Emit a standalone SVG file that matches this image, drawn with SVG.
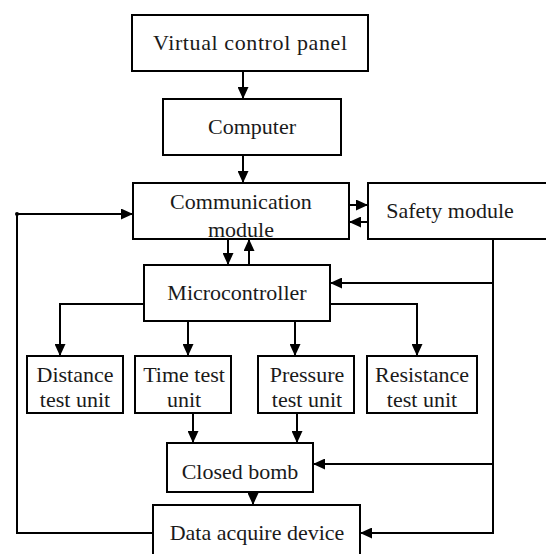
<svg xmlns="http://www.w3.org/2000/svg" width="546" height="554" viewBox="0 0 546 554">
<style>
.box{fill:#fff;stroke:#000;stroke-width:2}
.t{font-family:"Liberation Serif","Times New Roman",serif;font-size:22px;fill:#1a1a1a;text-anchor:middle}
.c{fill:none;stroke:#000;stroke-width:2}
</style>
<defs>
<marker id="ah" viewBox="0 0 12 11" markerWidth="12" markerHeight="11" refX="12" refY="5.5" orient="auto" markerUnits="userSpaceOnUse">
<path d="M0,0 L12,5.5 L0,11 z" fill="#000"/>
</marker>
</defs>
<rect width="546" height="554" fill="#fff"/>
<g id="connectors">
<path class="c" d="M243,71 V99" marker-end="url(#ah)"/>
<path class="c" d="M243,155 V183" marker-end="url(#ah)"/>
<path class="c" d="M349,205 H368" marker-end="url(#ah)"/>
<path class="c" d="M368,222 H349" marker-end="url(#ah)"/>
<path class="c" d="M228,239 V265" marker-end="url(#ah)"/>
<path class="c" d="M249,265 V239" marker-end="url(#ah)"/>
<path class="c" d="M144,304 H60 V356" marker-end="url(#ah)"/>
<path class="c" d="M188,321 V356" marker-end="url(#ah)"/>
<path class="c" d="M295,321 V356" marker-end="url(#ah)"/>
<path class="c" d="M330,304 H417 V356" marker-end="url(#ah)"/>
<path class="c" d="M493,239 V533 H360" marker-end="url(#ah)"/>
<path class="c" d="M493,283 H330" marker-end="url(#ah)"/>
<path class="c" d="M493,464 H313" marker-end="url(#ah)"/>
<path class="c" d="M193,413 V443" marker-end="url(#ah)"/>
<path class="c" d="M297,413 V443" marker-end="url(#ah)"/>
<path class="c" d="M253,492 V505" marker-end="url(#ah)"/>
<path class="c" d="M153,533 H17 V214 H133" marker-end="url(#ah)"/>
<circle cx="17" cy="214" r="2" fill="#000"/>
</g>
<g id="vcp"><rect class="box" x="132" y="15" width="236" height="56"/><text class="t" x="250" y="50" textLength="194">Virtual control panel</text></g>
<g id="computer"><rect class="box" x="163" y="99" width="178" height="56"/><text class="t" x="252" y="134">Computer</text></g>
<g id="comm"><rect class="box" x="133" y="183" width="216" height="56"/><text class="t" x="241" y="209">Communication</text><text class="t" x="241" y="237">module</text></g>
<g id="safety"><rect class="box" x="368" y="183" width="182" height="56"/><text class="t" x="450" y="218">Safety module</text></g>
<g id="micro"><rect class="box" x="144" y="265" width="186" height="56"/><text class="t" x="237" y="300">Microcontroller</text></g>
<g id="distance"><rect class="box" x="27" y="356" width="96" height="57"/><text class="t" x="75" y="382">Distance</text><text class="t" x="75" y="407">test unit</text></g>
<g id="time"><rect class="box" x="135" y="356" width="96" height="57"/><text class="t" x="184" y="382">Time test</text><text class="t" x="184" y="407">unit</text></g>
<g id="pressure"><rect class="box" x="258" y="356" width="96" height="57"/><text class="t" x="307" y="382">Pressure</text><text class="t" x="307" y="407">test unit</text></g>
<g id="resistance"><rect class="box" x="367" y="356" width="110" height="57"/><text class="t" x="422" y="382">Resistance</text><text class="t" x="422" y="407">test unit</text></g>
<g id="bomb"><rect class="box" x="167" y="443" width="146" height="49"/><text class="t" x="240" y="479">Closed bomb</text></g>
<g id="data"><rect class="box" x="153" y="505" width="207" height="60"/><text class="t" x="257" y="540">Data acquire device</text></g>
</svg>
